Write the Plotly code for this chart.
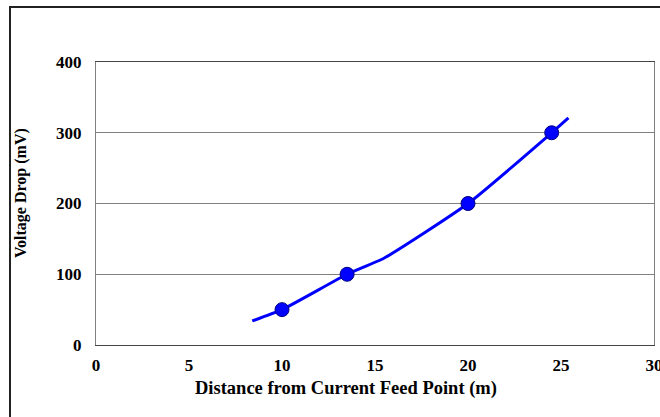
import plotly.graph_objects as go

# measured data points
distance_pts = [10, 13.5, 20, 24.5]
voltage_pts = [50, 100, 200, 300]

# fitted curve drawn through the points
curve_x = [8.4, 10, 13.5, 15.5, 20, 24.5, 25.4]
curve_y = [34, 50, 100, 123, 200, 300, 321]

x_ticks = [0, 5, 10, 15, 20, 25, 30]
y_ticks = [0, 100, 200, 300, 400]

FONT = "Liberation Serif"

# plot area in pixels
L, R, T, B = 96, 6, 62, 72
W, H = 660, 417
PW, PH = W - L - R, H - T - B


def px(xpix):
    return (xpix - L) / PW


def py(ypix):
    return (H - B - ypix) / PH


fig = go.Figure()
fig.add_trace(go.Scatter(x=curve_x, y=curve_y, mode="lines",
                         line=dict(color="#0000FF", width=3, shape="spline", smoothing=0.5),
                         hoverinfo="skip", showlegend=False))
fig.add_trace(go.Scatter(x=distance_pts, y=voltage_pts, mode="markers",
                         marker=dict(color="#0000FF", size=14, line=dict(color="#000080", width=1)),
                         showlegend=False))

fig.update_layout(
    width=W, height=H,
    margin=dict(l=L, r=R, t=T, b=B, autoexpand=False),
    paper_bgcolor="white", plot_bgcolor="white",
    font=dict(family=FONT, size=17, color="black"),
    xaxis=dict(range=[0, 30], tickvals=x_ticks, showgrid=False, zeroline=False,
               showline=True, linecolor="#444444", linewidth=1, mirror=True,
               ticks="outside", ticklen=5, tickcolor="rgba(0,0,0,0)",
               ticklabeloverflow="allow", automargin=False,
               tickfont=dict(family=FONT, size=17, weight="bold")),
    yaxis=dict(range=[0, 400], tickvals=y_ticks, showgrid=True, gridcolor="#808080", gridwidth=1,
               zeroline=False, showline=True, linecolor="#808080", linewidth=1, mirror=True,
               ticks="outside", ticklen=10, tickcolor="rgba(0,0,0,0)", automargin=False,
               tickfont=dict(family=FONT, size=17, weight="bold")),
    annotations=[
        dict(text="<b>Distance from Current Feed Point (m)</b>", xref="paper", yref="paper",
             x=px(346), y=py(388), xanchor="center", yanchor="middle",
             showarrow=False, font=dict(family=FONT, size=18.5)),
        dict(text="<b>Voltage Drop (mV)</b>", xref="paper", yref="paper",
             x=px(21), y=py(193), xanchor="center", yanchor="middle",
             textangle=-90, showarrow=False, font=dict(family=FONT, size=16)),
    ],
    shapes=[
        dict(type="rect", xref="paper", yref="paper",
             x0=px(10), x1=1.2, y0=-0.4, y1=py(7),
             line=dict(color="#222222", width=2), layer="below"),
    ],
)

fig.write_html(
    "out.html",
    config={"displayModeBar": False},
    post_script="document.body.style.margin='0';document.body.style.overflow='hidden';",
)
